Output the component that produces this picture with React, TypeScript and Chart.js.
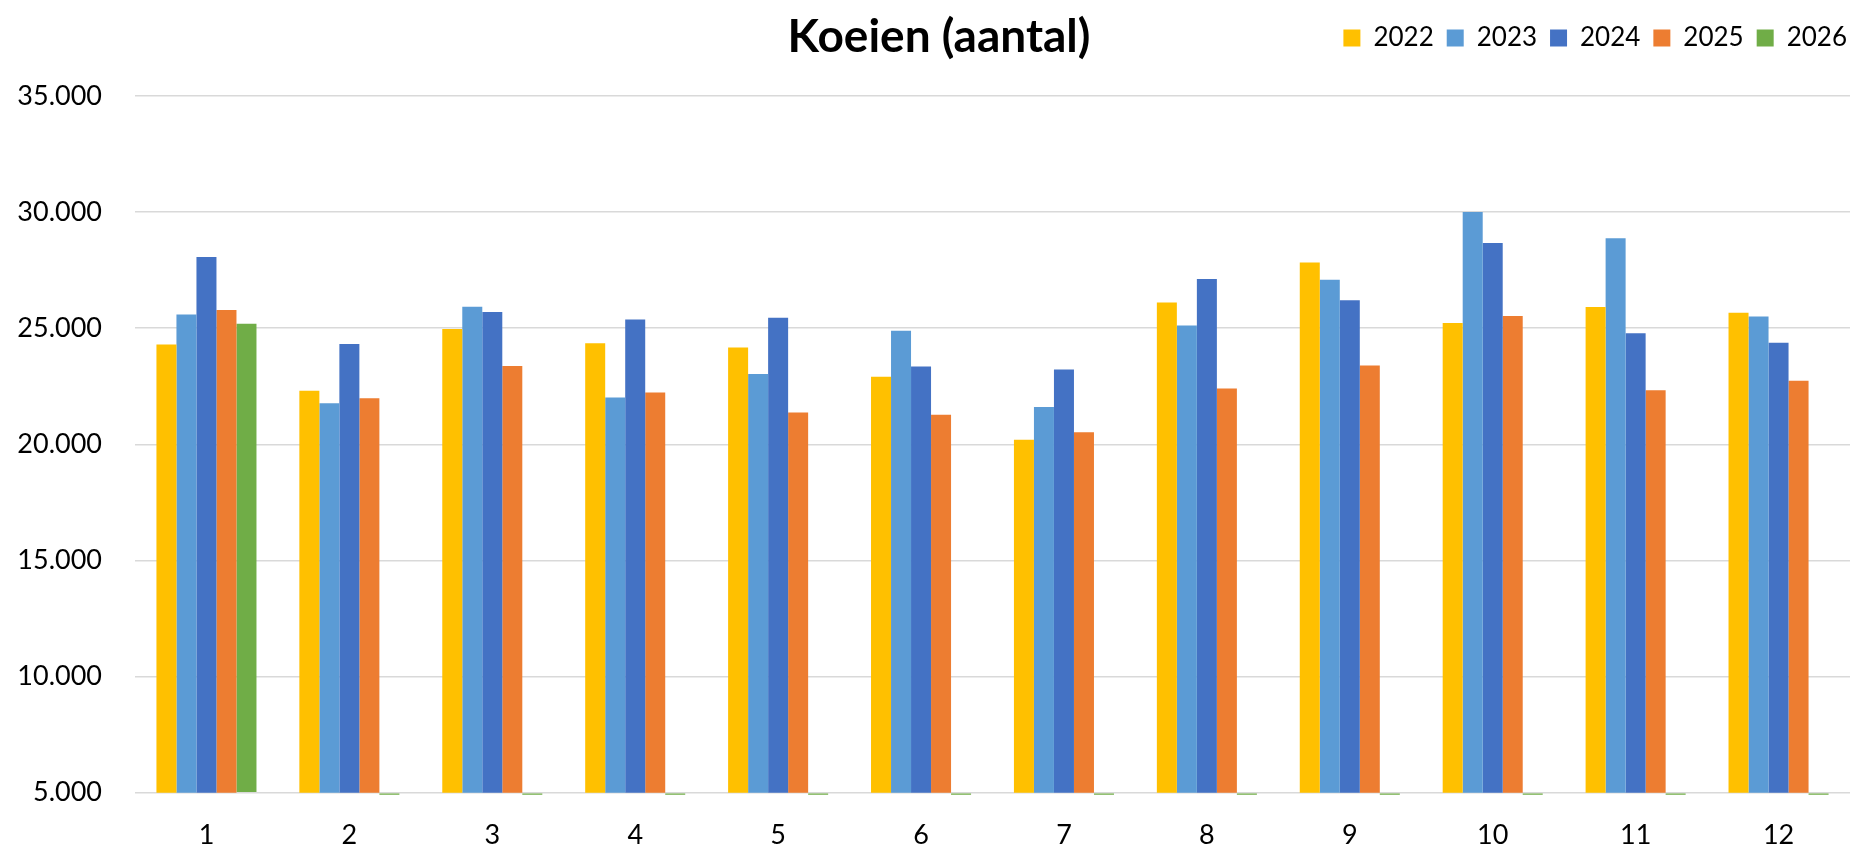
import React, { useEffect, useRef } from 'react';
import { Chart, registerables } from 'chart.js';

Chart.register(...registerables);

const months = ['1', '2', '3', '4', '5', '6', '7', '8', '9', '10', '11', '12'];
const years = ['2022', '2023', '2024', '2025', '2026'];

const v2022 = [24300, 22310, 24970, 24350, 24170, 22910, 20200, 26110, 27830, 25230, 25910, 25670];
const v2023 = [25590, 21770, 25930, 22020, 23030, 24890, 21610, 25120, 27090, 30000, 28880, 25500];
const v2024 = [28070, 24320, 25700, 25380, 25450, 23350, 23220, 27120, 26200, 28670, 24780, 24370];
const v2025 = [25790, 21990, 23370, 22230, 21370, 21270, 20520, 22400, 23390, 25530, 22330, 22740];
const v2026 = [25190, 0, 0, 0, 0, 0, 0, 0, 0, 0, 0, 0];

const seriesColors = ['#FFC000', '#5B9BD5', '#4472C4', '#ED7D31', '#70AD47'];

const yMin = 5000;
const yMax = 35000;
const yStep = 5000;

const titleText = 'Koeien (aantal)';

const FONT = "Lato, 'Open Sans', sans-serif";

function fmt(v: number): string {
  return String(v).replace(/\B(?=(\d{3})+(?!\d))/g, '.');
}

export default function App() {
  const ref = useRef<HTMLCanvasElement | null>(null);

  useEffect(() => {
    document.body.style.margin = '0';
    const canvas = ref.current;
    if (!canvas) return;
    const allSeries = [v2022, v2023, v2024, v2025, v2026];
    const datasets = allSeries.map((vals, i) => {
      const ds: any = {
        label: years[i],
        data: vals,
        backgroundColor: seriesColors[i],
        borderWidth: 0,
        categoryPercentage: 0.7,
        barPercentage: 1.0,
      };
      if (i === 4) {
        ds.base = yMin;
        ds.clip = { left: false, top: false, right: false, bottom: 2 };
      }
      return ds;
    });

    const chart = new Chart(canvas, {
      type: 'bar',
      data: { labels: months, datasets },
      options: {
        animation: false,
        responsive: false,
        devicePixelRatio: 1,
        layout: { padding: { top: 0, left: 18, right: 15, bottom: 0 } },
        plugins: {
          title: {
            display: true,
            text: titleText,
            color: '#000',
            font: { family: FONT, size: 46, weight: 'bold', lineHeight: 1.2 },
            padding: { top: 9.9, bottom: -53.1 },
          },
          legend: {
            display: true,
            position: 'top',
            align: 'end',
            labels: {
              color: '#000',
              font: { family: FONT, size: 26 },
              boxWidth: 17,
              boxHeight: 17,
              padding: 13,
            },
          },
          tooltip: { enabled: false },
        },
        scales: {
          x: {
            axis: 'x',
            position: 'bottom',
            grid: { display: false, drawTicks: false },
            border: { display: false },
            ticks: { color: '#000', font: { family: FONT, size: 27 }, padding: 26, maxRotation: 0 },
            afterFit: (s: any) => { s.height = 54.3; },
          },
          xTop: {
            axis: 'x',
            type: 'category',
            position: 'top',
            display: true,
            grid: { display: false, drawTicks: false },
            border: { display: false },
            ticks: { display: false },
            afterFit: (s: any) => { s.height = 35; },
          },
          y: {
            axis: 'y',
            position: 'left',
            min: yMin,
            max: yMax,
            grid: { color: '#d9d9d9', lineWidth: 1.5, drawTicks: false },
            border: { display: false },
            ticks: {
              stepSize: yStep,
              color: '#000',
              font: { family: FONT, size: 27 },
              padding: 33,
              callback: (v: any) => fmt(Number(v)),
            },
            afterFit: (s: any) => { s.width = 117; },
          },
          yRight: {
            axis: 'y',
            type: 'linear',
            position: 'right',
            display: true,
            grid: { display: false, drawTicks: false },
            border: { display: false },
            ticks: { display: false },
            afterFit: (s: any) => { s.width = 10; },
          },
        },
      } as any,
    });
    return () => chart.destroy();
  }, []);

  return (
    <div style={{ width: 1875, height: 847, background: '#fff' }}>
      <canvas ref={ref} width={1875} height={847} style={{ display: 'block', width: 1875, height: 847 }} />
    </div>
  );
}
